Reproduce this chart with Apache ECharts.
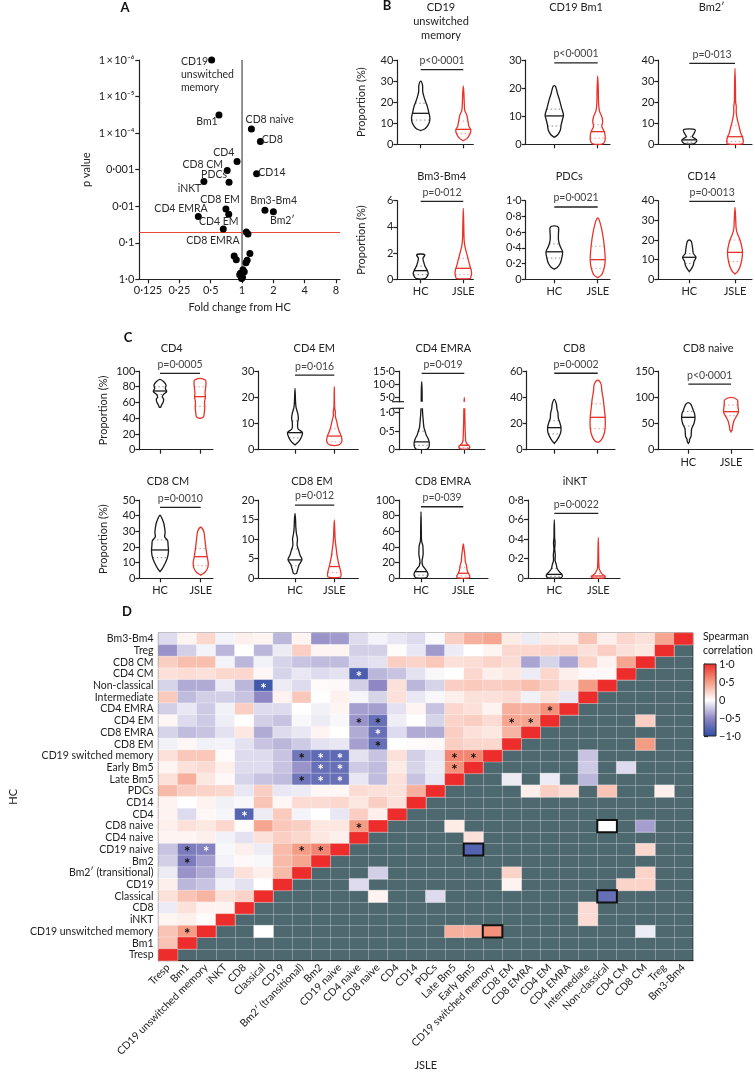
<!DOCTYPE html>
<html><head><meta charset="utf-8">
<script src="https://cdn.jsdelivr.net/npm/echarts@6/dist/echarts.min.js"></script>
<style>html,body{margin:0;padding:0;background:#fff}#c{width:755px;height:1072px}</style>
</head><body><div id="c"></div>
<script>
// ================= DATA =================
// Panel A: fold change vs p value
const A_names = ['CD19\nunswitched\nmemory','Bm1','CD8 naive','CD8','CD4','CD8 CM','CD14','PDCs','iNKT','CD8 EM','CD4 EM','CD4 EMRA','CD8 EMRA','Bm3-Bm4','Bm2′'];
const A_fold = [0.51,0.60,1.23,1.50,0.895,0.72,1.38,0.75,0.43,0.70,0.745,0.38,0.66,1.66,2.0];
const A_p = [1.0e-6,3.2e-5,7.7e-5,1.7e-4,6.0e-4,1.05e-3,1.3e-3,2.2e-3,2.1e-3,0.012,0.0167,0.019,0.042,0.0129,0.0141];
const A_nsFold = [1.10,1.14,1.19,0.84,0.88,1.12,1.09,1.02,0.965,1.01,0.95,1.05,0.99];
const A_nsP = [0.051,0.058,0.197,0.23,0.29,0.30,0.35,0.55,0.68,0.88,0.75,0.62,0.95];
const A_xTicks = [0.125,0.25,0.5,1,2,4,8];
const A_yTicks = [1e-6,1e-5,1e-4,1e-3,1e-2,0.1,1];
const A_yTickLabels = ['1\u2009×\u200910⁻⁶','1\u2009×\u200910⁻⁵','1\u2009×\u200910⁻⁴','0·001','0·01','0·1','1·0'];
const A_threshold = 0.05;
const A_noChange = 1;

// Panels B and C: violin plots (B1..B6, C1..C9)
const violinTitles = ['CD19\nunswitched\nmemory','CD19 Bm1','Bm2′','Bm3-Bm4','PDCs','CD14',
  'CD4','CD4 EM','CD4 EMRA','CD8','CD8 naive','CD8 CM','CD8 EM','CD8 EMRA','iNKT'];
const violinP = ['p<0·0001','p<0·0001','p=0·013','p=0·012','p=0·0021','p=0·0013',
  'p=0·0005','p=0·016','p=0·019','p=0·0002','p<0·0001','p=0·0010','p=0·012','p=0·039','p=0·0022'];
const groups = ['HC','JSLE'];
// outline: [value, relative density]
const violinHC = [
 [[6.5,0],[7.5,0.5],[10,0.9],[12.3,1.0],[14.7,0.9],[18,0.72],[20,0.55],[22.6,0.35],[25,0.22],[28,0.2],[30,0]],
 [[2.5,0],[3.3,0.35],[5,0.65],[7,0.75],[9,0.9],[10.4,1.0],[13.4,0.75],[16,0.55],[18,0.35],[20.5,0.15],[20.9,0]],
 [[0.2,0.5],[0.8,0.85],[2,1.0],[2.8,0.75],[3.6,0.4],[5,0.6],[6.8,0.8],[7.3,0]],
 [[0.05,0.55],[0.2,0.85],[0.46,1.0],[0.7,0.85],[0.97,0.6],[1.22,0.45],[1.6,0.3],[1.86,0.55],[1.93,0]],
 [[0.13,0],[0.15,0.35],[0.2,0.7],[0.27,0.9],[0.35,1.0],[0.42,0.7],[0.5,0.5],[0.58,0.5],[0.66,0.5],[0.68,0]],
 [[3.9,0],[5.6,0.35],[7.3,0.6],[9,0.7],[11.2,1.0],[13.2,0.6],[15.8,0.5],[19.2,0.3],[20,0]],
 [[54,0.1],[57,0.25],[60,0.45],[64,0.55],[67,0.35],[70,0.5],[74,1.0],[78,0.8],[82,0.9],[86,0.6],[89.4,0]],
 [[1.8,0],[3,0.45],[4.5,0.8],[6.5,1.0],[8,0.4],[10,0.35],[12,0.45],[14,0.35],[16,0.15],[18,0.08],[23.4,0]],
 [[0.01,0.7],[0.05,0.9],[0.1,1.0],[0.2,1.0],[0.3,0.85],[0.4,0.6],[0.5,0.45],[0.6,0.3],[0.8,0.2],[1.0,0.12],[1.3,0.08],[3,0.07],[5,0.06],[8,0.05],[11,0]],
 [[4.8,0],[7,0.35],[10,0.7],[13,0.95],[17,1.0],[21,0.8],[24,0.6],[28,0.55],[31,0.4],[35,0.3],[38.4,0]],
 [[12,0],[15,0.15],[20,0.2],[25,0.4],[32,0.45],[40,0.5],[50,0.85],[60,1.0],[68,0.95],[75,0.75],[82,0.55],[87,0.35],[89.6,0]],
 [[4.3,0],[6,0.25],[9,0.55],[12,0.8],[15,0.95],[18,1.0],[21,0.95],[24,0.9],[26.5,0.55],[29,0.6],[32,0.55],[35,0.45],[38,0.25],[40.4,0]],
 [[1.2,0.2],[2,0.35],[3.5,0.6],[4.8,1.0],[6,0.7],[7,0.55],[8.5,0.3],[10,0.35],[11.5,0.2],[13,0.12],[15,0.08],[16.6,0]],
 [[0.5,0.7],[2,0.9],[5,1.0],[8,0.9],[12,0.6],[16,0.25],[22,0.15],[30,0.3],[36,0.3],[42,0.25],[48,0.08],[60,0.05],[85,0]],
 [[0.005,0.8],[0.02,1.0],[0.04,0.95],[0.07,0.6],[0.1,0.35],[0.14,0.25],[0.18,0.1],[0.24,0.12],[0.3,0.05],[0.36,0.1],[0.42,0.04],[0.5,0.03],[0.596,0]]
];
const violinJSLE = [
 [[1.7,0],[2.8,0.5],[5,0.9],[7,1.0],[8.5,0.75],[11.5,0.6],[14,0.45],[16,0.2],[20,0.12],[24,0.08],[27.7,0]],
 [[0.1,0.5],[1,0.85],[2.7,0.9],[4.5,0.8],[6.3,0.5],[8.1,0.6],[9.8,0.5],[12,0.2],[15,0.1],[20,0.07],[24.3,0]],
 [[0.2,0.9],[1.3,1.0],[3.6,0.9],[5.2,0.7],[8.4,0.5],[11.5,0.3],[15,0.15],[18,0.15],[20,0.08],[28,0.05],[36,0]],
 [[0.05,0.8],[0.15,0.9],[0.46,1.0],[0.84,0.9],[1.0,0.8],[1.5,0.6],[2,0.4],[2.5,0.2],[3,0.1],[4,0.06],[5.42,0]],
 [[0.02,0],[0.05,0.45],[0.08,0.65],[0.16,0.9],[0.25,1.0],[0.37,0.93],[0.5,0.78],[0.63,0.55],[0.75,0.22],[0.78,0]],
 [[2.7,0],[3.9,0.33],[6.4,0.67],[9.8,0.9],[13.7,1.0],[16.6,0.9],[20,0.67],[23.2,0.33],[26,0.15],[30,0.1],[36.6,0]],
 [[40,0.2],[42,0.6],[46,0.7],[50,0.75],[55,0.8],[60,0.75],[67,0.9],[72,0.85],[80,0.95],[85,1.0],[88.5,0.9],[90.7,0]],
 [[1.8,0.6],[3,1.0],[5,0.95],[7,0.65],[9,0.45],[11,0.3],[13,0.12],[14,0.15],[16,0.05],[24,0]],
 [[0.02,0.7],[0.06,0.9],[0.1,0.85],[0.15,0.5],[0.2,0.3],[0.3,0.2],[0.5,0.15],[0.8,0.1],[1.3,0.06],[3,0.05],[5,0]],
 [[6,0.2],[8,0.55],[12,0.85],[17,1.0],[25,1.0],[30,0.9],[38,0.75],[45,0.55],[50,0.45],[53,0]],
 [[34,0],[38,0.15],[44,0.2],[50,0.3],[55,0.4],[62,0.65],[68,0.9],[73,1.0],[80,0.95],[88,0.9],[95,0.85],[99.8,0]],
 [[2,0],[4,0.6],[7,0.95],[10,1.0],[14,0.85],[19,0.7],[25,0.55],[30,0.4],[32.6,0]],
 [[0.3,0.9],[1,1.0],[2,0.9],[3,0.75],[4.5,0.55],[6,0.4],[8,0.25],[10,0.12],[12,0.08],[14.9,0]],
 [[0.5,0.9],[3,1.0],[6,0.8],[10,0.6],[16,0.5],[22,0.3],[28,0.25],[35,0.15],[43.8,0]],
 [[0.005,0.85],[0.02,1.0],[0.04,0.6],[0.07,0.3],[0.1,0.12],[0.2,0.06],[0.3,0.04],[0.415,0]]
];
// [Q1, median, Q3]
const quartHC = [[11.5,14.7,19.5],[6.5,10.1,12.5],[1.0,2.1,3.5],[0.35,0.66,1.0],[0.27,0.35,0.45],[8,11.2,13],
 [70,74.6,80],[4.5,6.5,11],[0.12,0.21,0.5],[12,16.8,22],[45,61.7,73],[13.2,18.1,24.5],[3.2,4.7,7.5],[4,8.5,20],[0.02,0.04,0.1]];
const quartJSLE = [[5,7.1,11],[2.2,4.5,7],[1.3,3.6,9],[0.35,0.84,1.6],[0.14,0.25,0.42],[9,13.7,20],
 [55,67.4,80],[3,5.2,8],[0.06,0.12,0.25],[16,24.7,35],[65,72.5,85],[8,13.8,19],[1.5,3.0,6],[3,6.4,14],[0.015,0.024,0.05]];
// y axis [max, interval]
const violinYAxis = [[40,10],[30,10],[40,10],[6,2],[1,0.2],[40,10],[100,20],[30,10],null,[60,20],[150,50],[50,10],[20,5],[100,20],[0.8,0.2]];

// Panel D: Spearman correlation heatmap
const cellTypes = ['Tresp','Bm1','CD19 unswitched memory','iNKT','CD8','Classical','CD19','Bm2′ (transitional)','Bm2','CD19 naive','CD4 naive','CD8 naive','CD4','CD14','PDCs','Late Bm5','Early Bm5','CD19 switched memory','CD8 EM','CD8 EMRA','CD4 EM','CD4 EMRA','Intermediate','Non-classical','CD4 CM','CD8 CM','Treg','Bm3-Bm4'];
// HC rows from top (Bm3-Bm4) to bottom (Tresp); columns follow cellTypes (JSLE), up to the diagonal
const corrUpperRows = [
 [-0.15,0.05,0.2,-0.05,0.08,0.05,-0.3,0.05,-0.45,-0.42,-0.15,-0.05,-0.1,-0.15,-0.02,0.25,0.4,0.45,0.1,-0.08,0.1,0.08,0.3,0.08,0.2,0.15,0.45,1],
 [-0.45,-0.2,-0.05,-0.3,0,-0.3,-0.08,0.25,0.05,0.05,-0.2,-0.2,0.02,-0.1,-0.42,-0.08,0,0.05,0.2,0.2,0.22,0.22,0.15,0.25,0.15,0.12,1],
 [0.25,0.33,0.33,-0.05,-0.3,-0.06,-0.18,-0.25,-0.28,-0.28,-0.15,-0.12,0.25,0.22,0.28,0.15,0.17,0.22,0.17,-0.38,-0.18,-0.38,0.22,0.06,0.45,1],
 [0.15,0.17,0.15,0.2,0.2,0.04,-0.18,-0.1,-0.15,-0.12,-0.85,-0.3,-0.25,-0.12,-0.03,0,0.2,0.08,0.12,-0.08,0.2,0.08,0.03,0.03,1],
 [-0.18,-0.35,-0.35,-0.08,-0.3,-0.9,-0.08,-0.15,0.02,0.03,-0.2,-0.5,0.15,-0.3,-0.18,0.25,0.27,0.25,0.27,0.33,0.25,0.15,0.5,1],
 [0.27,-0.28,-0.2,-0.2,-0.25,-0.5,0.06,0.28,0,0.07,-0.04,-0.18,0.15,-0.1,-0.03,0.08,0.15,0.15,0.18,-0.06,0.15,-0.1,1],
 [-0.2,-0.1,-0.22,-0.06,0.25,-0.15,-0.15,0,-0.06,0.05,-0.4,-0.4,-0.12,0.05,-0.25,0.2,0.15,0.06,0.4,0.4,0.55,1],
 [0.04,-0.15,-0.22,-0.07,0,-0.2,-0.25,-0.03,-0.08,-0.03,-0.45,-0.7,-0.07,0,-0.18,0.22,0.25,0.18,0.45,0.45,1],
 [-0.18,-0.28,-0.25,-0.12,0.12,-0.35,-0.15,-0.1,0.05,0,-0.35,-0.7,-0.15,-0.35,-0.35,0.25,0.15,0.12,0.38,1],
 [-0.06,0.04,-0.06,-0.05,-0.12,-0.25,-0.3,-0.22,-0.12,-0.1,-0.4,-0.7,0,0.02,0.03,0.25,0.2,0.2,1],
 [0.15,0.28,0.28,0.02,-0.15,-0.15,-0.25,-0.65,-0.75,-0.75,-0.12,-0.25,0.15,-0.2,-0.1,0.6,0.6,1],
 [0.05,0.15,0.18,0.08,-0.15,-0.15,-0.25,-0.45,-0.7,-0.7,-0.22,-0.28,0.1,-0.18,-0.08,0.55,1],
 [0.15,0.4,0.12,0.03,-0.18,-0.25,-0.28,-0.65,-0.7,-0.7,-0.1,-0.28,0.15,-0.25,-0.1,1],
 [0.35,0.25,0.22,0.2,-0.1,0.25,-0.1,-0.08,0.04,0.04,0.18,0.15,0.15,0.4,1],
 [0.06,0,0.06,-0.06,-0.03,0.3,0.04,0.18,0.18,0.2,0.12,0.25,0.15,1],
 [0.06,-0.15,0.04,-0.04,-0.8,-0.08,0.27,-0.05,0,-0.1,0.25,0.08,1],
 [0.08,0.15,0.12,0.2,0.02,0.45,0.28,0.25,0.12,0.12,0.5,1],
 [0.05,0.05,0.08,-0.06,-0.12,0.15,0.25,0.2,0.12,0.08,1],
 [-0.25,-0.6,-0.55,-0.03,0.08,-0.08,0.35,0.5,0.6,1],
 [-0.2,-0.6,-0.4,-0.05,0.03,-0.03,0.35,0.45,1],
 [-0.08,-0.45,-0.35,-0.15,0.15,0.08,0.35,1],
 [0.08,-0.3,-0.25,-0.06,-0.12,0,1],
 [0.15,0.3,0.38,0.15,0.22,1],
 [-0.08,0.15,0.06,0.06,1],
 [0.05,0.08,0.02,1],
 [0.3,0.5,1],
 [0.3,1],
 [1]
];
// cells below the diagonal that carry a value: [rowFromTop, col, r]
const corrLowerCells = [
 [7,25,0.25],[9,25,0.5],[10,22,-0.25],[11,22,-0.22],[11,24,-0.15],[12,18,-0.08],[12,20,-0.08],[12,22,-0.3],
 [13,19,0.08],[13,20,0.25],[13,21,0.18],[13,23,0.3],[13,26,0.08],[16,15,0.1],[16,23,0],[16,25,-0.4],[17,16,0.15],
 [18,16,-0.8],[18,25,0.2],[20,11,-0.2],[20,18,0.22],[20,25,0.22],[21,10,-0.15],[21,18,0.06],[21,24,0.22],[21,25,0.22],
 [22,11,0.06],[22,14,-0.15],[22,23,-0.7],[23,22,0.18],[24,22,0.18],[25,5,0],[25,15,0.4],[25,16,0.4],[25,17,0.55],[25,25,-0.08]
];
// significant cells [rowFromTop, col, star colour w/b]
const corrSignificant = [[3,10,'w'],[4,5,'w'],[6,20,'b'],[7,10,'b'],[7,11,'b'],[7,18,'b'],[7,19,'b'],[8,11,'w'],[9,11,'b'],
 [10,7,'b'],[10,8,'w'],[10,9,'w'],[10,15,'b'],[10,16,'b'],[11,8,'w'],[11,9,'w'],[11,15,'b'],[12,7,'b'],[12,8,'w'],[12,9,'w'],
 [15,4,'w'],[16,10,'b'],[18,1,'b'],[18,2,'w'],[18,7,'b'],[18,8,'b'],[19,1,'b'],[25,1,'b']];
// outlined cells [rowFromTop, col]
const corrOutlined = [[16,23],[18,16],[22,23],[25,17]];

// ================= STYLE / LAYOUT =================
const FONT = 'Lato, "Noto Sans", sans-serif';
const TXT = '#222';
const HC_COLOR = '#1a1a1a', JSLE_COLOR = '#e8332a';
const CORR_COLORS = ['#2d4da3','#8e87c3','#ffffff','#f59c84','#ec2d2b'];
const GREY_CELL = '#4e6870';
// axisX, hcX, jsleX, endX, topY, bottomY
const violinLayout = [
 [397.3,420.7,463.3,473.3,60,144.3],[525.7,554.3,597.7,610,60,144.3],[658.3,689.3,735,752,60,144.3],
 [397.3,420.7,463.3,473.3,200.7,279.3],[525.7,554.3,597.7,610,200.7,279.3],[658.3,689.3,735,752,200.7,279.3],
 [139.3,160,200,213,371,449.7],[258.3,295,334.3,358.3,371,449.7],[399,421.7,464.3,485,371,449.7],
 [526.7,554.3,597.7,615,371,449.7],[658.3,688.3,731,753,371,449.7],
 [139.3,160,200.7,213,500,578.3],[258.3,295,334.3,358.3,500,578.3],[399,421,463.3,488,500,578.3],[528,554.3,598.3,620,500,578.3]
];
const violinTitlePos = [[441,21],[576,7],[711.7,7],[441.7,176],[569.3,176],[701.7,176],
 [171.7,348.3],[314.3,348.3],[443.3,348.3],[574.3,348.3],[708.3,348.3],[168,481],[312,481],[443,481],[575,481]];
const bracketLevel = [35.4,29.0,38.4,5.95,0.92,39.7,97,28.4,14.1,58.3,125,45.3,18.7,91.4,0.664];
const widthHC = [9.2,9.2,7.5,7.5,8.3,6.7,6.7,7.5,7.5,6.7,6.7,8.5,7,7,8];
const widthJSLE = [7.5,8.3,8.3,8.3,7.5,7.5,6,7.5,6,7.5,7.5,7.5,6.8,6.5,7];
const showGroupLabels = [false,false,false,true,true,true,false,false,false,false,true,true,true,true,true];
const showYName = [true,false,false,true,false,false,true,false,false,false,false,true,false,false,false];

// ================= BUILD =================
function fmtNum(v){ if (Math.abs(v) < 1e-9) return '0'; return String(+v.toFixed(6)).replace('.', '·'); }
function fmtDec(v){ if (Math.abs(v) < 1e-9) return '0'; return v.toFixed(1).replace('.', '·'); }
function interp(shape, v){
  for (let i=0;i<shape.length-1;i++){ const a=shape[i], b=shape[i+1];
    if (v>=a[0] && v<=b[0]) return a[1] + (b[1]-a[1])*(v-a[0])/(b[0]-a[0]); }
  return 0;
}
const grids=[], xAxes=[], yAxes=[], series=[], graphics=[];
const axisLineStyle = {color:'#222', width:1.2};

// ---- Panel A ----
const A_xMin = 0.103, A_xMax = 8.73, A_yMin = 1e-6, A_yMax = 1;
grids.push({left:139.3, top:60, width:200.7, height:219.3});
xAxes.push({gridIndex:0, type:'log', logBase:2, min:A_xMin, max:A_xMax,
  axisLine:{show:true, onZero:false, lineStyle:axisLineStyle},
  axisTick:{show:true, customValues:A_xTicks, length:4, lineStyle:axisLineStyle},
  axisLabel:{customValues:A_xTicks, formatter:v=>fmtNum(v), fontSize:11, color:TXT, margin:6, fontFamily:FONT},
  splitLine:{show:false}, minorTick:{show:false},
  name:'Fold change from HC', nameLocation:'middle', nameGap:23, nameTextStyle:{fontSize:11, color:TXT, fontFamily:FONT}});
yAxes.push({gridIndex:0, type:'log', logBase:10, min:A_yMin, max:A_yMax, inverse:true,
  axisLine:{show:true, onZero:false, lineStyle:axisLineStyle},
  axisTick:{show:true, customValues:A_yTicks, length:4, lineStyle:axisLineStyle},
  axisLabel:{customValues:A_yTicks, fontSize:11, color:TXT, margin:5, fontFamily:FONT,
    formatter:v=>{ const e=Math.round(Math.log10(v)); return A_yTickLabels[e+6]; }},
  splitLine:{show:false},
  name:'p value', nameLocation:'middle', nameGap:47, nameTextStyle:{fontSize:11, color:TXT, fontFamily:FONT}});
// reference lines drawn through the axes
series.push({type:'custom', xAxisIndex:0, yAxisIndex:0, silent:true, z:1, data:[[A_noChange, A_threshold]], encode:{x:0,y:1},
  renderItem:(params, api)=>{
    const fx = api.value(0), py = api.value(1);
    const v1 = api.coord([fx, A_yMin]), v2 = api.coord([fx, A_yMax]);
    const h1 = api.coord([A_xMin, py]), h2 = api.coord([A_xMax, py]);
    return {type:'group', children:[
      {type:'line', shape:{x1:v1[0], y1:v1[1], x2:v2[0], y2:v2[1]}, style:{stroke:'#777777', lineWidth:1.6}},
      {type:'line', shape:{x1:h1[0], y1:Math.round(h1[1])+0.5, x2:h2[0], y2:Math.round(h2[1])+0.5}, style:{stroke:'#e8493b', lineWidth:1}}
    ]};
  }});
const A_labelOffsets = [[-30.7,14.4],[-12,6.7],[18.3,-9],[12,-1.7],[-13.3,-8.6],[-24.4,-5.7],[15.3,-1.3],[-15,-7.7],[-14.4,7.6],[-6,-9],[-10,7.4],[-17.3,-7.7],[-10.4,11.6],[8.7,-10],[9,9.3]];
const A_data = A_names.map((n,i)=>({value:[A_fold[i],A_p[i]], name:n,
  label:{show:true, position:'inside', formatter:n, offset:A_labelOffsets[i], align: i===0?'left':'center', verticalAlign:'middle',
    fontSize:10.5, color:'#2a2a2a', lineHeight:13, fontFamily:FONT}}));
A_nsFold.forEach((f,i)=>A_data.push({value:[f,A_nsP[i]]}));
series.push({type:'scatter', xAxisIndex:0, yAxisIndex:0, symbolSize:7, itemStyle:{color:'#000', opacity:1}, data:A_data, z:3});
graphics.push({type:'text', x:125, y:8, style:{text:'A', fontSize:13, fontWeight:'bold', fill:'#111', align:'center', verticalAlign:'middle', fontFamily:FONT}});

// ---- Violin panels ----
function violinRender(k){
  return function(params, api){
    const g = api.value(0);
    const shape = g===0 ? violinHC[k] : violinJSLE[k];
    const q = g===0 ? quartHC[k] : quartJSLE[k];
    const mw = g===0 ? widthHC[k] : widthJSLE[k];
    const col = g===0 ? HC_COLOR : JSLE_COLOR;
    const cx = api.coord([g, shape[0][0]])[0];
    const R=[], L=[];
    shape.forEach(([v,d])=>{ const y=api.coord([g,v])[1]; R.push([cx+d*mw,y]); L.push([cx-d*mw,y]); });
    let pts = R.concat(L.reverse());
    pts = pts.filter((p,i)=> i===0 || Math.abs(p[0]-pts[i-1][0])>0.01 || Math.abs(p[1]-pts[i-1][1])>0.01);
    const children = [{type:'polygon', shape:{points:pts, smooth:0.3}, style:{fill:'rgba(255,255,255,0)', stroke:col, lineWidth:1.3}}];
    q.forEach((qv,i)=>{ const w=interp(shape,qv)*mw; const y=api.coord([g,qv])[1];
      children.push({type:'line', shape:{x1:cx-w, y1:y, x2:cx+w, y2:y},
        style: i===1 ? {stroke:col, lineWidth:1.3} : {stroke:col, lineWidth:1, lineDash:[1.5,2.5], opacity:0.5}}); });
    return {type:'group', children};
  };
}
function bracketRender(k){
  return function(params, api){
    const a = api.coord([0, api.value(1)]), b = api.coord([1, api.value(1)]);
    return {type:'group', children:[
      {type:'line', shape:{x1:a[0], y1:a[1], x2:b[0], y2:b[1]}, style:{stroke:'#222', lineWidth:1.3}},
      {type:'text', x:(a[0]+b[0])/2, y:a[1]-9, style:{text:violinP[k], align:'center', verticalAlign:'middle', fontSize:10.5, fill:'#444', fontFamily:FONT}}
    ]};
  };
}
function addGrid(left, top, width, height){ grids.push({left, top, width, height}); return grids.length-1; }
function groupXAxis(gi, k, show){
  const [ax,hc,js,end] = violinLayout[k]; const sp = js-hc;
  return {gridIndex:gi, type:'value', min:-(hc-ax)/sp, max:1+(end-js)/sp, show:show,
    axisLine:{show:true, onZero:false, lineStyle:axisLineStyle},
    axisTick:{show:true, customValues:[0,1], length:4, lineStyle:axisLineStyle},
    axisLabel:{show:showGroupLabels[k], customValues:[0,1], formatter:v=>groups[Math.round(v)], fontSize:11, color:TXT, margin:7, fontFamily:FONT},
    splitLine:{show:false}};
}
function valueYAxis(gi, min, max, ticks, fmt, nameShow){
  return {gridIndex:gi, type:'value', min, max,
    axisLine:{show:true, onZero:false, lineStyle:axisLineStyle},
    axisTick:{show:true, customValues:ticks, length:4, lineStyle:axisLineStyle},
    axisLabel:{customValues:ticks, formatter:fmt, fontSize:11, color:TXT, margin:4, fontFamily:FONT},
    splitLine:{show:false},
    name: nameShow ? 'Proportion (%)' : '', nameLocation:'middle', nameGap:30, nameTextStyle:{fontSize:11, color:TXT, fontFamily:FONT}};
}
function tickList(max, step){ const t=[]; for (let v=0; v<=max+1e-9; v+=step) t.push(+v.toFixed(6)); return t; }

for (let k=0;k<15;k++){
  const [ax,hc,js,end,top,bot] = violinLayout[k];
  if (k===8){
    // broken axis: lower 0..1.12, upper 3.5..15
    const gl = addGrid(ax, 408.3, end-ax, bot-408.3);
    xAxes.push(groupXAxis(gl,k,true));
    yAxes.push(valueYAxis(gl,0,1.12,[0,0.5,1],v=>fmtDec(v),false));
    series.push({type:'custom', xAxisIndex:gl, yAxisIndex:gl, clip:true, silent:true, data:[[0,0],[1,0]], encode:{x:0,y:1}, renderItem:violinRender(k)});
    const gu = addGrid(ax, top, end-ax, 401.7-top);
    xAxes.push(groupXAxis(gu,k,false));
    yAxes.push(valueYAxis(gu,3.5,15,[5,10,15],v=>fmtDec(v),false));
    series.push({type:'custom', xAxisIndex:gu, yAxisIndex:gu, clip:true, silent:true, data:[[0,0],[1,0]], encode:{x:0,y:1}, renderItem:violinRender(k)});
    series.push({type:'custom', xAxisIndex:gu, yAxisIndex:gu, silent:true, data:[[0,bracketLevel[k]]], encode:{x:0,y:1}, renderItem:bracketRender(k)});
    graphics.push({type:'line', shape:{x1:ax-7, y1:401.7, x2:ax+5, y2:401.7}, style:{stroke:'#222', lineWidth:1.2}});
    graphics.push({type:'line', shape:{x1:ax-7, y1:408.3, x2:ax+5, y2:408.3}, style:{stroke:'#222', lineWidth:1.2}});
  } else {
    const [ymax, step] = violinYAxis[k];
    const gi = addGrid(ax, top, end-ax, bot-top);
    xAxes.push(groupXAxis(gi,k,true));
    const dec = step < 1;
    yAxes.push(valueYAxis(gi,0,ymax,tickList(ymax,step), v=> dec ? fmtDec(v) : fmtNum(v), showYName[k]));
    series.push({type:'custom', xAxisIndex:gi, yAxisIndex:gi, silent:true, data:[[0,0],[1,0]], encode:{x:0,y:1}, renderItem:violinRender(k)});
    series.push({type:'custom', xAxisIndex:gi, yAxisIndex:gi, silent:true, data:[[0,bracketLevel[k]]], encode:{x:0,y:1}, renderItem:bracketRender(k)});
  }
  const [tx,ty] = violinTitlePos[k];
  graphics.push({type:'text', x:tx, y:ty, style:{text:violinTitles[k], align:'center', verticalAlign:'middle', fontSize:11, lineHeight:14, fill:TXT, fontFamily:FONT}});
}
graphics.push({type:'text', x:387, y:6, style:{text:'B', fontSize:13, fontWeight:'bold', fill:'#111', align:'center', verticalAlign:'middle', fontFamily:FONT}});
graphics.push({type:'text', x:128, y:338, style:{text:'C', fontSize:13, fontWeight:'bold', fill:'#111', align:'center', verticalAlign:'middle', fontFamily:FONT}});

// ---- Panel D heatmap ----
const n = cellTypes.length;
const hg = addGrid(139, 633, 554, 335);
grids[hg].show = true; grids[hg].backgroundColor = GREY_CELL; grids[hg].borderColor = '#333'; grids[hg].borderWidth = 1;
xAxes.push({gridIndex:hg, type:'category', data:cellTypes,
  axisLine:{lineStyle:axisLineStyle}, axisTick:{alignWithLabel:true, interval:0, length:4, lineStyle:axisLineStyle},
  axisLabel:{rotate:45, interval:0, fontSize:10.5, color:TXT, margin:5, fontFamily:FONT},
  splitLine:{show:true, interval:0, lineStyle:{color:'rgba(255,255,255,0.3)', width:1}},
  name:'JSLE', nameLocation:'middle', nameGap:93, nameTextStyle:{fontSize:11, color:TXT, fontFamily:FONT}});
yAxes.push({gridIndex:hg, type:'category', data:cellTypes,
  axisLine:{lineStyle:axisLineStyle}, axisTick:{alignWithLabel:true, interval:0, length:4, lineStyle:axisLineStyle},
  axisLabel:{interval:0, fontSize:10.5, color:TXT, margin:5, fontFamily:FONT},
  splitLine:{show:true, interval:0, lineStyle:{color:'rgba(255,255,255,0.3)', width:1}},
  name:'HC', nameLocation:'middle', nameGap:124, nameTextStyle:{fontSize:11, color:TXT, fontFamily:FONT}});
const sigMap = {}; corrSignificant.forEach(([r,c,w])=>sigMap[r+'_'+c]=w);
const outMap = {}; corrOutlined.forEach(([r,c])=>outMap[r+'_'+c]=true);
const cells = [], outlinedCells = [];
function pushCell(r,c,v){
  const item = {value:[c, n-1-r, v]};
  const s = sigMap[r+'_'+c];
  if (s) item.label = {show:true, formatter:'*', color: s==='w'?'#ffffff':'#111111', fontSize:15, fontWeight:'bold', offset:[0,3], fontFamily:FONT};
  if (outMap[r+'_'+c]) { item.itemStyle = {borderColor:'#111', borderWidth:2}; outlinedCells.push(item); }
  else cells.push(item);
}
corrUpperRows.forEach((row,r)=>row.forEach((v,c)=>pushCell(r,c,v)));
corrLowerCells.forEach(([r,c,v])=>pushCell(r,c,v));
const heatIdx = series.length;
series.push({type:'heatmap', xAxisIndex:hg, yAxisIndex:hg, data:cells.concat(outlinedCells),
  itemStyle:{borderColor:'rgba(255,255,255,0.55)', borderWidth:0.6}, emphasis:{disabled:true}, silent:true});
graphics.push({type:'text', x:127, y:612, style:{text:'D', fontSize:13, fontWeight:'bold', fill:'#111', align:'center', verticalAlign:'middle', fontFamily:FONT}});

// ---- colour bar legend ----
const cg = addGrid(704, 664, 12, 72);
xAxes.push({gridIndex:cg, type:'value', show:false, min:0, max:1});
yAxes.push({gridIndex:cg, type:'value', position:'right', min:-1, max:1, interval:0.5,
  axisLine:{show:true, lineStyle:axisLineStyle}, axisTick:{show:true, length:4, lineStyle:axisLineStyle},
  axisLabel:{fontSize:11, color:TXT, margin:3, fontFamily:FONT, formatter:v=> Math.abs(v)<1e-9 ? '0' : (v<0?'−':'') + Math.abs(v).toFixed(1).replace('.','·')},
  splitLine:{show:false}});
graphics.push({type:'rect', shape:{x:704, y:664, width:12, height:72}, z:10,
  style:{fill:{type:'linear', x:0, y:0, x2:0, y2:1, colorStops: CORR_COLORS.slice().reverse().map((c,i,a)=>({offset:i/(a.length-1), color:c}))}, stroke:'#222', lineWidth:1}});
graphics.push({type:'text', x:703, y:644, style:{text:'Spearman\ncorrelation', align:'left', verticalAlign:'middle', fontSize:10.5, lineHeight:14, fill:'#111', fontFamily:FONT}});

const chart = echarts.init(document.getElementById('c'), null, {width:755, height:1072});
chart.setOption({
  animation:false,
  textStyle:{fontFamily:FONT},
  grid:grids, xAxis:xAxes, yAxis:yAxes, series,
  visualMap:[{type:'continuous', min:-1, max:1, seriesIndex:heatIdx, dimension:2, show:false, inRange:{color:CORR_COLORS}}],
  graphic:{elements:graphics}
});
</script>
</body></html>
